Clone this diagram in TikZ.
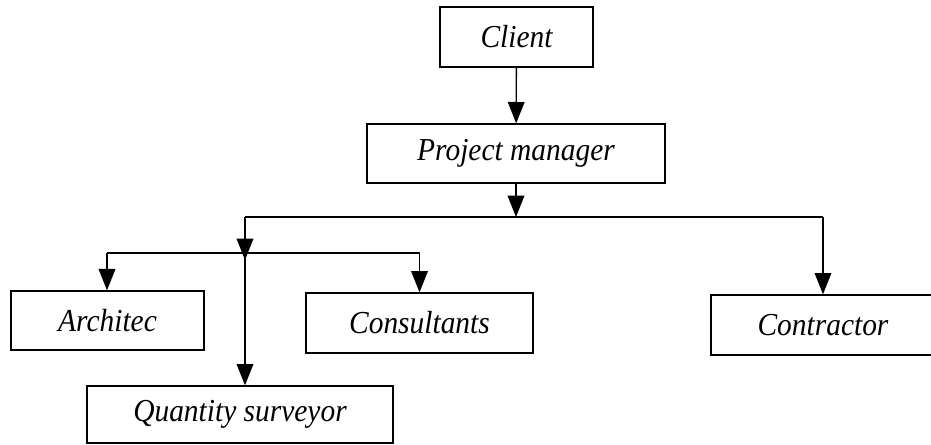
\documentclass[tikz,border=0pt]{standalone}
\usepackage{fontspec}
\setmainfont{Liberation Serif}[FakeStretch=0.92]
\usetikzlibrary{arrows.meta}

\begin{document}
\begin{tikzpicture}[x=0.75pt,y=-0.75pt,line width=1pt,
  role/.style 2 args={draw, inner sep=0pt, minimum width=#1*0.75pt, minimum height=#2*0.75pt,
    font=\fontsize{24}{28}\selectfont\itshape},
  arr/.style={-{Triangle[length=16pt,width=12.5pt]}}]

\useasboundingbox (0,0) rectangle (931,445);

\node[role={153}{60}] (client) at (516.5,37) {Client};
\node[role={298}{59}] (pm) at (516,153.5) {Project manager};

\node[role={193}{59}] (architec) at (107.5,320.5) {Architec};
\node[role={227}{60}] (consult) at (419.5,323) {Consultants};
\node[role={224}{60}] (contract) at (823,325) {Contractor};
\node[role={306}{57}] (qs) at (240,414.5) {Quantity surveyor};

% junctions
\coordinate (busmid) at (516,217);
\coordinate (busleft) at (245,217);
\coordinate (busright) at (823,217);
\coordinate (subleft) at (107,253);
\coordinate (submid) at (245,253);
\coordinate (subright) at (419.5,253);

\draw[arr] (client) -- (pm);
\draw[arr] (pm) -- (busmid);
\draw (busleft) -- (busright);
\draw[arr] (busleft) -- (245,260);
\draw (subleft) -- (subright);

\foreach \dest/\from in {architec/subleft, consult/subright, qs/submid, contract/busright}
    \draw[arr] (\from) -- (\from |- \dest.north);

\end{tikzpicture}
\end{document}
